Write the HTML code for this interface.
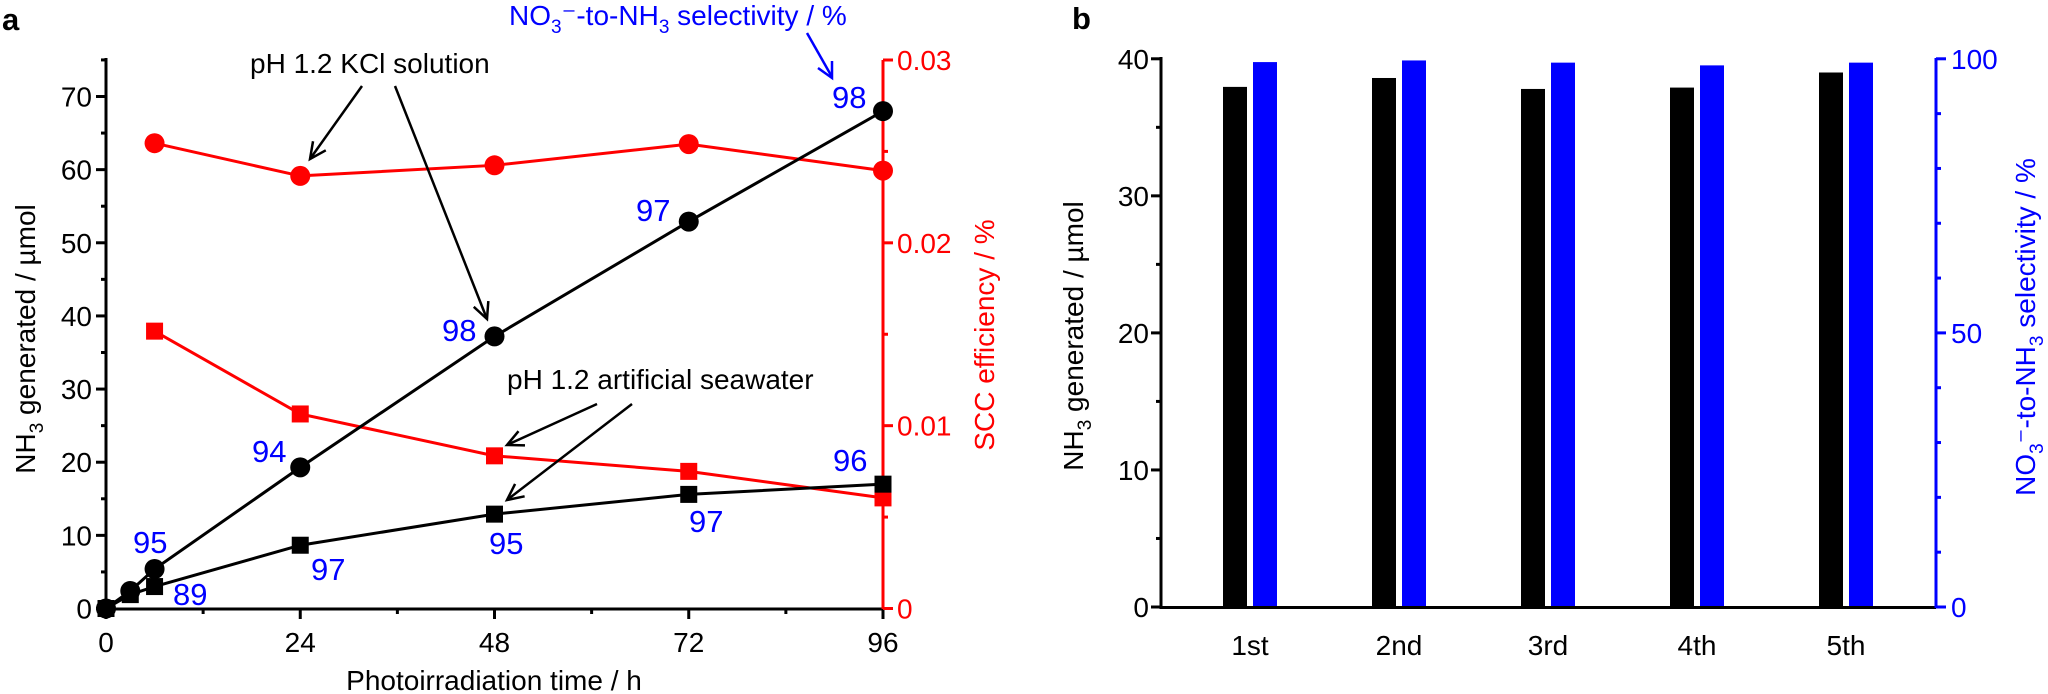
<!DOCTYPE html>
<html><head><meta charset="utf-8"><style>
html,body{margin:0;padding:0;background:#fff;}
svg{display:block;font-family:"Liberation Sans",Arial,sans-serif;}
</style></head><body>
<svg id="chart" width="2048" height="694" viewBox="0 0 2048 694" xmlns="http://www.w3.org/2000/svg">
<g id="pa"></g>
<g id="pb"></g>
</svg>
<script>
// Panel a data
const timeH = [0, 3, 6, 24, 48, 72, 96];
const kclNH3 = [0, 2.4, 5.4, 19.3, 37.2, 52.9, 68.0];
const seaNH3 = [0, 1.9, 3.0, 8.65, 12.9, 15.6, 17.0];
const sccTime = [6, 24, 48, 72, 96];
const kclSCC = [0.02545, 0.02366, 0.02424, 0.0254, 0.02395];
const seaSCC = [0.01517, 0.01064, 0.00835, 0.0075, 0.00605];
const xTicks = [0, 24, 48, 72, 96];
const yTicksA = [0, 10, 20, 30, 40, 50, 60, 70];
const rTicksA = [0, 0.01, 0.02, 0.03];
const rTickLabelsA = ["0", "0.01", "0.02", "0.03"];
// Panel b data
const cycles = ["1st", "2nd", "3rd", "4th", "5th"];
const cycleNH3 = [37.95, 38.6, 37.8, 37.9, 39.0];
const cycleSel = [99.4, 99.7, 99.3, 98.8, 99.3];
const yTicksB = [0, 10, 20, 30, 40];
const rTicksB = [0, 50, 100];

const NS = "http://www.w3.org/2000/svg";
const FS = 28;
function mk(parent, tag, attrs, text) {
  const e = document.createElementNS(NS, tag);
  for (const k in attrs) e.setAttribute(k, attrs[k]);
  if (text !== undefined) e.textContent = text;
  parent.appendChild(e);
  return e;
}
const pa = document.getElementById('pa');
const pb = document.getElementById('pb');

const xA = t => 106 + t * (883 - 106) / 96;
const yA = v => 608.5 + v * (96.5 - 608.5) / 70;
const yR = v => 608.5 + v * (60 - 608.5) / 0.03;

let e;
e = mk(pa, 'text', {x: 2, y: 30, 'font-size': 31, 'font-weight': 'bold'}, 'a');



e = mk(pa, 'line', {x1: 106, y1: 58, x2: 106, y2: 610, stroke: '#000', 'stroke-width': 3});


for (let v = 0; v <= 75; v += 5) {
  const major = v % 10 === 0;
  mk(pa, 'line', {x1: 106 - (major ? 10 : 5), y1: yA(v), x2: 106, y2: yA(v), stroke: '#000', 'stroke-width': 3});
}
yTicksA.forEach(v => {
  e = mk(pa, 'text', {x: 92, y: yA(v) + 10, 'font-size': FS, 'text-anchor': 'end'}, String(v));
  
  
});
e = mk(pa, 'text', {transform: 'translate(35,339) rotate(-90)', 'font-size': FS, 'text-anchor': 'middle'});


e.innerHTML = 'NH<tspan font-size="19" dy="8">3</tspan><tspan dy="-8"> generated / µmol</tspan>';

e = mk(pa, 'line', {x1: 100, y1: 609, x2: 884, y2: 609, stroke: '#000', 'stroke-width': 3});


for (let t = 0; t <= 96; t += 12) {
  const major = t % 24 === 0;
  mk(pa, 'line', {x1: xA(t), y1: 609, x2: xA(t), y2: 609 + (major ? 10 : 5), stroke: '#000', 'stroke-width': 3});
}
xTicks.forEach(t => {
  e = mk(pa, 'text', {x: xA(t), y: 652, 'font-size': FS, 'text-anchor': 'middle'}, String(t));
  
  
});
e = mk(pa, 'text', {x: 494, y: 690, 'font-size': FS, 'text-anchor': 'middle'}, 'Photoirradiation time / h');



e = mk(pa, 'line', {x1: 883, y1: 60, x2: 883, y2: 609, stroke: '#f00', 'stroke-width': 3});


for (let i = 0; i <= 6; i++) {
  const v = i * 0.005;
  const major = i % 2 === 0;
  mk(pa, 'line', {x1: 883, y1: yR(v), x2: 883 + (major ? 10 : 5), y2: yR(v), stroke: '#f00', 'stroke-width': 3});
}
rTicksA.forEach((v, i) => {
  e = mk(pa, 'text', {x: 897, y: yR(v) + 10, 'font-size': FS, fill: '#f00'}, rTickLabelsA[i]);
  
  
});
e = mk(pa, 'text', {transform: 'translate(994,335) rotate(-90)', 'font-size': FS, 'text-anchor': 'middle', fill: '#f00'}, 'SCC efficiency / %');



function series(xs, ys, yfn, color, shape, name) {
  const g = mk(pa, 'g', {});
  
  
  mk(g, 'polyline', {points: xs.map((t, i) => xA(t) + ',' + yfn(ys[i])).join(' '), fill: 'none', stroke: color, 'stroke-width': 3});
  xs.forEach((t, i) => {
    let m;
    if (shape === 'c') m = mk(g, 'circle', {cx: xA(t), cy: yfn(ys[i]), r: 10, fill: color});
    else m = mk(g, 'rect', {x: xA(t) - 8.5, y: yfn(ys[i]) - 8.5, width: 17, height: 17, fill: color});
    
    
  });
}
series(sccTime, kclSCC, yR, '#f00', 'c', 'kcl-scc-series');
series(sccTime, seaSCC, yR, '#f00', 's', 'seawater-scc-series');
series(timeH, seaNH3, yA, '#000', 's', 'seawater-nh3-series');
series(timeH, kclNH3, yA, '#000', 'c', 'kcl-nh3-series');

e = mk(pa, 'text', {x: 250, y: 73, 'font-size': FS}, 'pH 1.2 KCl solution');


e = mk(pa, 'text', {x: 507, y: 389, 'font-size': FS}, 'pH 1.2 artificial seawater');


[[362,86,310,159],[395,86,487,319],[597,404,507,445],[632,404,507,500]].forEach(a => {
  e = mk(pa, 'line', {x1: a[0], y1: a[1], x2: a[2], y2: a[3], stroke: '#000', 'stroke-width': 2.5});
  
  
  const ang = Math.atan2(a[3]-a[1], a[2]-a[0]);
  const L = 18, w = 0.45;
  mk(pa, 'polyline', {points: `${a[2]-L*Math.cos(ang-w)},${a[3]-L*Math.sin(ang-w)} ${a[2]},${a[3]} ${a[2]-L*Math.cos(ang+w)},${a[3]-L*Math.sin(ang+w)}`, fill: 'none', stroke: '#000', 'stroke-width': 2.5});
});
e = mk(pa, 'text', {x: 509, y: 25, 'font-size': FS, fill: '#00f'});


e.innerHTML = 'NO<tspan font-size="19" dy="8">3</tspan><tspan dy="-8">⁻-to-NH</tspan><tspan font-size="19" dy="8">3</tspan><tspan dy="-8"> selectivity / %</tspan>';
mk(pa, 'line', {x1: 807, y1: 33, x2: 832, y2: 77, stroke: '#00f', 'stroke-width': 2.5});
mk(pa, 'polyline', {points: '818,68 832,78 832,61', fill: 'none', stroke: '#00f', 'stroke-width': 2.5});
const selLabels = [["98",832,108],["97",636,221],["98",442,341],["94",252,462],["95",133,553],["89",173,605],["97",311,580],["95",489,554],["97",689,532],["96",833,471]];
selLabels.forEach(s => {
  e = mk(pa, 'text', {x: s[1], y: s[2], 'font-size': 31, fill: '#00f'}, s[0]);
  
  
});

// Panel b
const yB = v => 607 + v * (58.8 - 607) / 40;
const yBR = v => 607 + v * (58.8 - 607) / 100;
const cx = i => 1250 + i * 149;
e = mk(pb, 'text', {x: 1072, y: 29, 'font-size': 31, 'font-weight': 'bold'}, 'b');


e = mk(pb, 'line', {x1: 1161, y1: 57, x2: 1161, y2: 609, stroke: '#000', 'stroke-width': 3});


for (let v = 0; v <= 40; v += 5) {
  const major = v % 10 === 0;
  mk(pb, 'line', {x1: 1161 - (major ? 10 : 5), y1: yB(v), x2: 1161, y2: yB(v), stroke: '#000', 'stroke-width': 3});
}
yTicksB.forEach(v => {
  e = mk(pb, 'text', {x: 1149, y: yB(v) + 10, 'font-size': FS, 'text-anchor': 'end'}, String(v));
  
  
});
e = mk(pb, 'text', {transform: 'translate(1083,336) rotate(-90)', 'font-size': FS, 'text-anchor': 'middle'});


e.innerHTML = 'NH<tspan font-size="19" dy="8">3</tspan><tspan dy="-8"> generated / µmol</tspan>';
cycles.forEach((c, i) => {
  e = mk(pb, 'rect', {x: cx(i) - 27, y: yB(cycleNH3[i]), width: 24, height: yB(0) - yB(cycleNH3[i]), fill: '#000'});
  
  
  e = mk(pb, 'rect', {x: cx(i) + 3, y: yBR(cycleSel[i]), width: 24, height: yBR(0) - yBR(cycleSel[i]), fill: '#00f'});
  
  
  e = mk(pb, 'text', {x: cx(i), y: 655, 'font-size': FS, 'text-anchor': 'middle'}, c);
  
  
});
e = mk(pb, 'line', {x1: 1161, y1: 607.5, x2: 1936, y2: 607.5, stroke: '#000', 'stroke-width': 3});


e = mk(pb, 'line', {x1: 1936, y1: 58, x2: 1936, y2: 608, stroke: '#00f', 'stroke-width': 3});


for (let v = 0; v <= 100; v += 10) {
  const major = v % 50 === 0;
  mk(pb, 'line', {x1: 1936, y1: yBR(v), x2: 1936 + (major ? 10 : 5), y2: yBR(v), stroke: '#00f', 'stroke-width': 3});
}
rTicksB.forEach(v => {
  e = mk(pb, 'text', {x: 1951, y: yBR(v) + 10, 'font-size': FS, fill: '#00f'}, String(v));
  
  
});
e = mk(pb, 'text', {transform: 'translate(2035,327) rotate(-90)', 'font-size': FS, 'text-anchor': 'middle', fill: '#00f'});


e.innerHTML = 'NO<tspan font-size="19" dy="8">3</tspan><tspan dy="-8">⁻-to-NH</tspan><tspan font-size="19" dy="8">3</tspan><tspan dy="-8"> selectivity / %</tspan>';
</script>
</body></html>
